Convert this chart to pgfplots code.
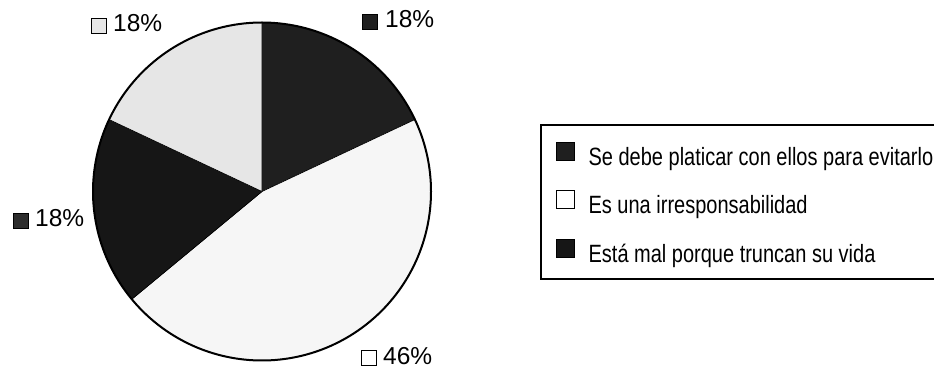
\documentclass[border=0pt]{standalone}
\usepackage{pgfplots}
\pgfplotsset{compat=1.18}
\usepackage{pgfplotstable}
\usepackage{fontspec}
\setmainfont{Liberation Sans}
\newfontfamily\legfont[FakeStretch=0.8]{Liberation Sans}

\definecolor{sliceA}{HTML}{1F1F1F}
\definecolor{sliceB}{HTML}{F6F6F6}
\definecolor{sliceC}{HTML}{161616}
\definecolor{sliceD}{HTML}{E6E6E6}

\pgfplotstableread{
pct
18
46
18
18
}\piedata
\pgfplotstablegetelem{0}{pct}\of\piedata\edef\pA{\pgfplotsretval}
\pgfplotstablegetelem{1}{pct}\of\piedata\edef\pB{\pgfplotsretval}
\pgfplotstablegetelem{2}{pct}\of\piedata\edef\pC{\pgfplotsretval}
\pgfplotstablegetelem{3}{pct}\of\piedata\edef\pD{\pgfplotsretval}
\pgfmathsetmacro\aA{90}
\pgfmathsetmacro\aB{\aA-3.6*\pA}
\pgfmathsetmacro\aC{\aB-3.6*\pB}
\pgfmathsetmacro\aD{\aC-3.6*\pC}
\pgfmathsetmacro\aE{\aD-3.6*\pD}
\def\cx{262}
\def\cy{177.5}
\def\R{169}

\begin{document}
\begin{tikzpicture}
\begin{axis}[
  scale only axis, width=934bp, height=369bp,
  xmin=0, xmax=934, ymin=0, ymax=369,
  hide axis, clip=false,
  legend cell align=left,
  legend image code/.code={\draw[#1, line width=0.8bp] (0bp,-7bp) rectangle (18bp,11bp);},
  legend style={at={(axis cs:540,245)}, anchor=north west, draw=black, line width=1.6bp,
    font=\legfont\fontsize{25bp}{29bp}\selectfont,
    nodes={inner sep=0pt, text height=26bp, text depth=2bp},
    inner xsep=15bp, inner ysep=14.5bp, row sep=20.5bp,
    /tikz/every odd column/.append style={column sep=14bp}},
]
\addplot[fill=sliceA, draw=black, line width=0.6bp, domain=\aB:\aA, samples=60, variable=\t, forget plot]
  ({\cx+\R*cos(\t)},{\cy+\R*sin(\t)}) -- (axis cs:\cx,\cy) -- cycle;
\addplot[fill=sliceB, draw=black, line width=0.6bp, domain=\aC:\aB, samples=120, variable=\t, forget plot]
  ({\cx+\R*cos(\t)},{\cy+\R*sin(\t)}) -- (axis cs:\cx,\cy) -- cycle;
\addplot[fill=sliceC, draw=black, line width=0.6bp, domain=\aD:\aC, samples=60, variable=\t, forget plot]
  ({\cx+\R*cos(\t)},{\cy+\R*sin(\t)}) -- (axis cs:\cx,\cy) -- cycle;
\addplot[fill=sliceD, draw=black, line width=0.6bp, domain=\aE:\aD, samples=60, variable=\t, forget plot]
  ({\cx+\R*cos(\t)},{\cy+\R*sin(\t)}) -- (axis cs:\cx,\cy) -- cycle;
\addplot[draw=black, line width=2bp, domain=0:360, samples=241, variable=\t, forget plot]
  ({\cx+\R*cos(\t)},{\cy+\R*sin(\t)});

\addlegendimage{fill=sliceA, draw=black}
\addlegendentry{Se debe platicar con ellos para evitarlo}
\addlegendimage{fill=white, draw=black}
\addlegendentry{Es una irresponsabilidad}
\addlegendimage{fill=sliceC, draw=black}
\addlegendentry{Está mal porque truncan su vida}

% percentage labels
\draw[fill=sliceA, line width=0.8bp] (axis cs:362,340) rectangle (axis cs:377,355);
\node[anchor=base west, inner sep=0pt, font=\fontsize{24.5bp}{28bp}\selectfont] at (axis cs:385,341) {18\%};
\draw[fill=sliceD, line width=0.8bp] (axis cs:91,336) rectangle (axis cs:106,351);
\node[anchor=base west, inner sep=0pt, font=\fontsize{24.5bp}{28bp}\selectfont] at (axis cs:113,337) {18\%};
\draw[fill=sliceC!90!white, line width=0.8bp] (axis cs:13,141) rectangle (axis cs:28,156);
\node[anchor=base west, inner sep=0pt, font=\fontsize{24.5bp}{28bp}\selectfont] at (axis cs:35,142) {18\%};
\draw[fill=white, line width=0.8bp] (axis cs:361,4) rectangle (axis cs:376,19);
\node[anchor=base west, inner sep=0pt, font=\fontsize{24.5bp}{28bp}\selectfont] at (axis cs:383,5) {46\%};
\end{axis}
\pgfresetboundingbox
\useasboundingbox (current axis.south west) rectangle (current axis.north east);
\end{tikzpicture}
\end{document}
